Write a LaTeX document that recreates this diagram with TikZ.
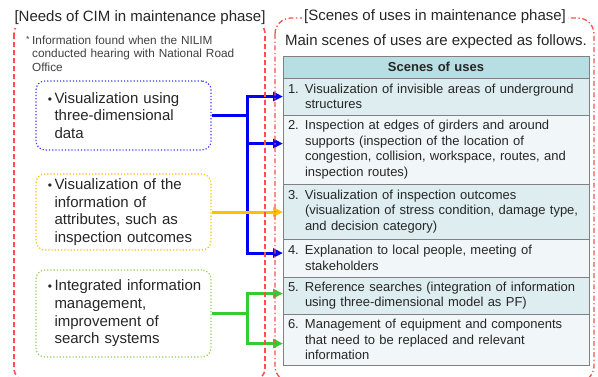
\documentclass[tikz,border=0pt]{standalone}
\usepackage{fontspec}
\setmainfont{Liberation Sans}
\usetikzlibrary{arrows.meta,positioning}
\definecolor{cimred}{RGB}{250,80,80}
\definecolor{cimblue}{RGB}{0,0,245}
\definecolor{cimorange}{RGB}{255,192,0}
\definecolor{cimgreen}{RGB}{51,204,51}
\definecolor{boxblue}{RGB}{60,60,255}
\definecolor{boxgreen}{RGB}{146,208,80}
\definecolor{headfill}{RGB}{183,222,226}
\definecolor{rowdark}{RGB}{222,237,240}
\definecolor{rowlight}{RGB}{241,247,249}
\tikzstyle{needbox}=[draw, dotted, line width=1.2pt, rounded corners=9pt, inner xsep=12pt, text width=151pt, align=left, font=\fontsize{15}{17.6}\selectfont, text=black!85]
\tikzstyle{scenerow}=[draw=black!50, line width=0.9pt, outer sep=0pt, inner xsep=5pt, inner ysep=0pt, text width=296pt, align=left, font=\fontsize{13}{15.6}\selectfont, text=black!85]
\tikzstyle{scenehead}=[scenerow, fill=headfill, align=center, font=\fontsize{13}{15.6}\selectfont\bfseries, minimum height=22pt]
\tikzstyle{arr}=[line width=3pt]
\tikzstyle{arrhead}=[arr, -{Triangle[length=10pt,width=9pt]}]
\tikzstyle{lab}=[fill=white, inner xsep=2pt, font=\fontsize{15}{17}\selectfont, text=black!85]
\newcommand{\needitem}[1]{\makebox[6.5pt][l]{\fontsize{12}{12}\selectfont•}\parbox[t]{155pt}{\raggedright #1}}
\newcommand{\sceneitem}[2]{\makebox[17pt][l]{#1}\parbox[t]{279pt}{\raggedright #2}}
\begin{document}
\begin{tikzpicture}[x=1pt, y=-1pt]
      \useasboundingbox (0,0) rectangle (598,376);
      %
      \node[anchor=north west, inner sep=0pt, text width=230pt, align=left, font=\fontsize{11.8}{13.5}\selectfont, text=black!75] (note) at (26,35.5)
        {\makebox[6pt][l]{\raisebox{2pt}{\fontsize{9}{9}\selectfont *}}\parbox[t]{220pt}{\raggedright Information found when the NILIM\\ conducted hearing with National Road\\ Office}};
      %
      \node[needbox, draw=boxblue, minimum height=69pt] (vis) at (123.5,115.5)
        {\needitem{Visualization using\\ three-dimensional\\ data}};
      \node[needbox, draw=cimorange, minimum height=76pt] (attr) at (123.5,212)
        {\needitem{Visualization of the\\ information of\\ attributes, such as\\ inspection outcomes}};
      \node[needbox, draw=boxgreen, minimum height=87pt] (srch) at (123.5,313.5)
        {\needitem{Integrated information\\ management,\\ improvement of\\ search systems}};
      %
      \node[lab, fill=none] (main) at (436,42) {Main scenes of uses are expected as follows.};
      \node[scenehead] (head) at (436,67) {Scenes of uses};
      \node[scenerow, fill=rowdark, minimum height=37pt, below=0pt of head] (row1)
        {\sceneitem{1.}{Visualization of invisible areas of underground\\ structures}};
      \node[scenerow, fill=rowlight, minimum height=69pt, below=0pt of row1] (row2)
        {\sceneitem{2.}{Inspection at edges of girders and around\\ supports (inspection of the location of\\ congestion, collision, workspace, routes, and\\ inspection routes)}};
      \node[scenerow, fill=rowdark, minimum height=55pt, below=0pt of row2] (row3)
        {\sceneitem{3.}{Visualization of inspection outcomes\\ (visualization of stress condition, damage type,\\ and decision category)}};
      \node[scenerow, fill=rowlight, minimum height=38pt, below=0pt of row3] (row4)
        {\sceneitem{4.}{Explanation to local people, meeting of\\ stakeholders}};
      \node[scenerow, fill=rowdark, minimum height=37pt, below=0pt of row4] (row5)
        {\sceneitem{5.}{Reference searches (integration of information\\ using three-dimensional model as PF)}};
      \node[scenerow, fill=rowlight, minimum height=51pt, below=0pt of row5] (row6)
        {\sceneitem{6.}{Management of equipment and components\\ that need to be replaced and relevant\\ information}};
      %
      \draw[arr, cimblue] (vis.east) -- ++(36,0) coordinate (bjoin);
      \draw[arrhead, cimblue] (bjoin) |- (row1.west);
      \draw[arrhead, cimblue] (bjoin) |- ([yshift=6pt]row2.west);
      \draw[arrhead, cimblue] (bjoin) |- ([yshift=5pt]row4.west);
      \draw[arrhead, cimorange] (attr.east) -- (attr.east -| row3.west);
      \draw[arr, cimgreen] (srch.east) -- ++(36,0) coordinate (gjoin);
      \draw[arrhead, cimgreen] (gjoin) |- ([yshift=2pt]row5.west);
      \draw[arrhead, cimgreen] (gjoin) |- ([yshift=-4pt]row6.west);
      %
      \draw[cimred, line width=1.6pt, dash pattern=on 5pt off 3pt, rounded corners=14pt] (14,20) rectangle (265,382);
      \draw[cimred, line width=1.3pt, dash pattern=on 5pt off 2.5pt on 1.3pt off 2.5pt, rounded corners=16pt] (275,18) rectangle (594,382);
      \node[lab] (needs) at (140,18) {[Needs of CIM in maintenance phase]};
      \node[lab] (scenes) at (435,17) {[Scenes of uses in maintenance phase]};
      %
\end{tikzpicture}
\end{document}
